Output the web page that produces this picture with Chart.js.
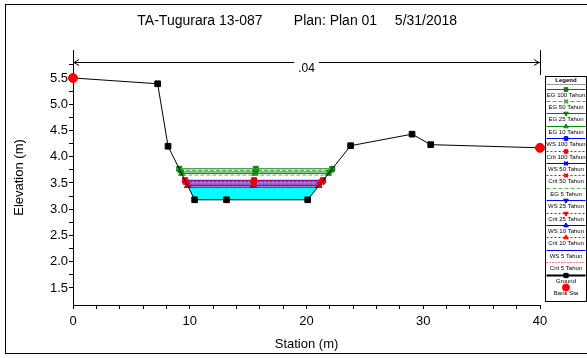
<!DOCTYPE html>
<html>
<head>
<meta charset="utf-8">
<script src="https://cdn.jsdelivr.net/npm/chart.js@4/dist/chart.umd.min.js"></script>
<style>
  html, body { margin: 0; padding: 0; background: #fff; }
  canvas { display: block; }
</style>
</head>
<body>
<canvas id="xs" width="587" height="358"></canvas>
<script>
// Cross section TA-Tugurara 13-087, Plan 01
const groundStation = [0, 7.25, 8.14, 10.42, 13.15, 20.1, 23.78, 29.04, 30.64, 40];
const groundElev    = [5.5, 5.39, 4.2, 3.18, 3.18, 3.18, 4.21, 4.43, 4.23, 4.17];
const bankStation   = [0, 40];
const bankElev      = [5.5, 4.17];

const profiles = ['100 Tahun', '50 Tahun', '25 Tahun', '10 Tahun', '5 Tahun'];
const egElev   = [3.77, 3.74, 3.71, 3.68, 3.65];
const wsElev   = [3.55, 3.52, 3.48, 3.45, 3.42];
const critElev = [3.55, 3.52, 3.48, 3.45, 3.42];

const nValues   = ['.04'];
const nStations = [0, 40];

const legendOrder = [
  'EG 100 Tahun', 'EG 50 Tahun', 'EG 25 Tahun', 'EG 10 Tahun',
  'WS 100 Tahun', 'Crit 100 Tahun', 'WS 50 Tahun', 'Crit 50 Tahun',
  'EG 5 Tahun', 'WS 25 Tahun', 'Crit 25 Tahun', 'WS 10 Tahun',
  'Crit 10 Tahun', 'WS 5 Tahun', 'Crit 5 Tahun', 'Ground', 'Bank Sta'
];

const FONT = "'Liberation Sans', Arial, Helvetica, sans-serif";

// Marker style per return period
const markers = [
  { s: 'rect', rot: 0 },
  { s: 'crossRot', rot: 0 },
  { s: 'triangle', rot: 180 },
  { s: 'triangle', rot: 0 },
  { s: false, rot: 0 }
];
const egColors = ['#008000', '#4aa84a', '#008000', '#0b8f0b', '#5cb85c'];
const egDash   = [[], [4, 2], [], [], [4, 2]];
const wsColor  = '#0000ff';
const critColor = '#ff0000';

// Where a water level meets the channel banks
function crossings(level) {
  let left = null, right = null;
  for (let i = 0; i < groundStation.length - 1; i++) {
    const x0 = groundStation[i], x1 = groundStation[i + 1];
    const y0 = groundElev[i], y1 = groundElev[i + 1];
    if (y0 === y1 || (y0 - level) * (y1 - level) > 0) continue;
    const x = x0 + (level - y0) / (y1 - y0) * (x1 - x0);
    if (y1 < y0) left = x;
    else { right = x; break; }
  }
  return [left, right];
}

function levelSet(label, level, color, dash, mk, order) {
  const [l, r] = crossings(level);
  return {
    label,
    data: [{ x: l, y: level }, { x: (l + r) / 2, y: level }, { x: r, y: level }],
    borderColor: color,
    backgroundColor: color,
    borderWidth: 1,
    borderDash: dash,
    pointStyle: mk.s,
    pointRotation: mk.rot,
    pointRadius: mk.s ? 3.5 : 0,
    pointBorderWidth: mk.s === 'crossRot' ? 1.6 : 1,
    pointBackgroundColor: color,
    pointBorderColor: color,
    fill: false,
    order,
    clip: false
  };
}

// Wetted area under the lowest water surface
const lowWs = Math.min(...wsElev);
const [wl, wr] = crossings(lowWs);
const waterPts = [{ x: wl, y: lowWs }];
groundStation.forEach((s, i) => { if (s > wl && s < wr) waterPts.push({ x: s, y: groundElev[i] }); });
waterPts.push({ x: wr, y: lowWs });

const datasets = [];
datasets.push({
  label: 'Water',
  data: waterPts,
  borderWidth: 0,
  borderColor: 'rgba(0,0,0,0)',
  backgroundColor: '#00ffff',
  pointRadius: 0,
  fill: { value: lowWs },
  order: 40
});
profiles.forEach((p, i) => {
  datasets.push(levelSet('EG ' + p, egElev[i], egColors[i], egDash[i], markers[i], 30 - i));
});
profiles.forEach((p, i) => {
  datasets.push(levelSet('WS ' + p, wsElev[i], wsColor, [], markers[i], 24 - 2 * i));
  datasets.push(levelSet('Crit ' + p, critElev[i], critColor, i === 4 ? [1, 2] : [2, 2], markers[i], 23 - 2 * i));
});
datasets.push({
  label: 'Ground',
  data: groundStation.map((s, i) => ({ x: s, y: groundElev[i] })),
  borderColor: '#000',
  backgroundColor: '#000',
  borderWidth: 1,
  pointStyle: 'rect',
  pointRadius: 4,
  pointBackgroundColor: '#000',
  pointBorderColor: '#000',
  fill: false,
  order: 5,
  clip: false
});
datasets.push({
  label: 'Bank Sta',
  data: bankStation.map((s, i) => ({ x: s, y: bankElev[i] })),
  showLine: false,
  pointStyle: 'circle',
  pointRadius: 4.5,
  pointBackgroundColor: '#ff0000',
  pointBorderColor: '#ff0000',
  backgroundColor: '#ff0000',
  borderColor: '#ff0000',
  order: 1,
  clip: false
});

function drawMarker(ctx, ds, x, y, r) {
  if (!ds.pointStyle) return;
  ctx.save();
  ctx.setLineDash([]);
  ctx.fillStyle = ds.pointBackgroundColor;
  ctx.strokeStyle = ds.pointBorderColor;
  ctx.lineWidth = ds.pointBorderWidth || 1;
  Chart.helpers.drawPoint(ctx, { pointStyle: ds.pointStyle, radius: r, rotation: ds.pointRotation || 0, borderWidth: ctx.lineWidth }, x, y);
  ctx.restore();
}

const decor = {
  id: 'decor',
  beforeDraw(chart) {
    const ctx = chart.ctx;
    ctx.save();
    ctx.fillStyle = '#fff';
    ctx.fillRect(0, 0, chart.width, chart.height);
    ctx.restore();
  },
  afterDraw(chart) {
    const ctx = chart.ctx;
    const a = chart.chartArea;
    const xs = chart.scales.x;
    ctx.save();

    // outer frame
    ctx.strokeStyle = '#000';
    ctx.lineWidth = 1;
    ctx.strokeRect(5.5, 4.5, 600, 349);

    // heading
    ctx.fillStyle = '#000';
    ctx.textBaseline = 'middle';
    ctx.textAlign = 'center';
    ctx.font = '14px ' + FONT;
    ctx.fillText('TA-Tugurara 13-087', 200, 21);
    ctx.fillText('Plan: Plan 01', 335.5, 21);
    ctx.fillText('5/31/2018', 426, 21);

    // axis titles
    ctx.font = '13px ' + FONT;
    ctx.fillText('Station (m)', (a.left + a.right) / 2, 344);
    ctx.save();
    ctx.translate(19, (a.top + a.bottom) / 2);
    ctx.rotate(-Math.PI / 2);
    ctx.fillText('Elevation (m)', 0, 0);
    ctx.restore();

    // Manning's n bands
    const ny = a.top + 12.5;
    ctx.font = '12px ' + FONT;
    nValues.forEach((n, i) => {
      const x0 = xs.getPixelForValue(nStations[i]);
      const x1 = xs.getPixelForValue(nStations[i + 1]);
      const xc = (x0 + x1) / 2;
      const half = ctx.measureText(n).width / 2 + 4;
      ctx.beginPath();
      ctx.moveTo(x0, ny); ctx.lineTo(xc - half, ny);
      ctx.moveTo(xc + half, ny); ctx.lineTo(x1, ny);
      // arrow heads
      ctx.moveTo(x0 + 6, ny - 3); ctx.lineTo(x0 + 1, ny); ctx.lineTo(x0 + 6, ny + 3);
      ctx.moveTo(x1 - 6, ny - 3); ctx.lineTo(x1 - 1, ny); ctx.lineTo(x1 - 6, ny + 3);
      ctx.stroke();
      ctx.beginPath();
      ctx.moveTo(Math.round(x1) + 0.5, a.top);
      ctx.lineTo(Math.round(x1) + 0.5, a.top + 25);
      ctx.stroke();
      ctx.fillText(n, xc, ny + 6);
    });

    // legend panel
    const L = 545.5, T = 76.5, R = 586.5, B = 301.5, cx = 566;
    ctx.fillStyle = '#fff';
    ctx.fillRect(L, T, R - L, B - T);
    ctx.strokeStyle = '#000';
    ctx.lineWidth = 1;
    ctx.strokeRect(L, T, R - L, B - T);
    ctx.fillStyle = '#000';
    ctx.font = 'bold 6px ' + FONT;
    ctx.fillText('Legend', cx, 80);
    ctx.strokeStyle = '#999';
    ctx.beginPath(); ctx.moveTo(L, 84.5); ctx.lineTo(R, 84.5); ctx.stroke();

    ctx.font = '6px ' + FONT;
    legendOrder.forEach((name, i) => {
      const ds = chart.data.datasets.find(d => d.label === name);
      const ly = Math.round(88.5 + i * 12.4) + 0.5;
      if (ds.showLine !== false) {
        ctx.save();
        ctx.strokeStyle = ds.borderColor;
        ctx.lineWidth = name === 'Ground' ? 2 : 1;
        ctx.setLineDash(ds.borderDash || []);
        ctx.beginPath(); ctx.moveTo(L + 1, ly); ctx.lineTo(R - 1, ly); ctx.stroke();
        ctx.restore();
      }
      drawMarker(ctx, ds, cx, ly, name === 'Bank Sta' ? 3.5 : (name === 'Ground' ? 3 : 2.6));
      ctx.fillStyle = '#000';
      ctx.fillText(name, cx, ly + 5.5);
    });
    ctx.restore();
  }
};

new Chart(document.getElementById('xs'), {
  type: 'line',
  data: { datasets },
  plugins: [decor],
  options: {
    responsive: false,
    animation: false,
    devicePixelRatio: 1,
    layout: { padding: { top: 50, right: 47, bottom: 0, left: 5 } },
    plugins: { legend: { display: false }, tooltip: { enabled: false }, title: { display: false } },
    elements: { line: { tension: 0 } },
    scales: {
      x: {
        type: 'linear', min: 0, max: 40,
        afterFit(s) { s.height = 53; },
        grid: { drawOnChartArea: false, drawTicks: true, tickLength: 4, color: '#000', tickColor: '#000' },
        border: { display: true, color: '#000', width: 1 },
        ticks: {
          stepSize: 2, autoSkip: false, maxRotation: 0, padding: 5, color: '#000',
          font: { family: FONT, size: 13 },
          callback(v) { return v % 10 === 0 ? String(v) : ''; }
        }
      },
      y: {
        type: 'linear', min: 1.176, max: 6.033,
        afterFit(s) { s.width = 68; },
        grid: { drawOnChartArea: false, drawTicks: true, tickLength: 4, color: '#000', tickColor: '#000' },
        border: { display: true, color: '#000', width: 1 },
        ticks: {
          stepSize: 0.25, autoSkip: false, padding: 1, color: '#000',
          font: { family: FONT, size: 13 },
          callback(v) {
            const q = Math.round(v * 4);
            if (Math.abs(v * 4 - q) > 1e-6) return null;
            return q % 2 === 0 ? v.toFixed(1) : '';
          }
        }
      }
    }
  }
});
</script>
</body>
</html>
